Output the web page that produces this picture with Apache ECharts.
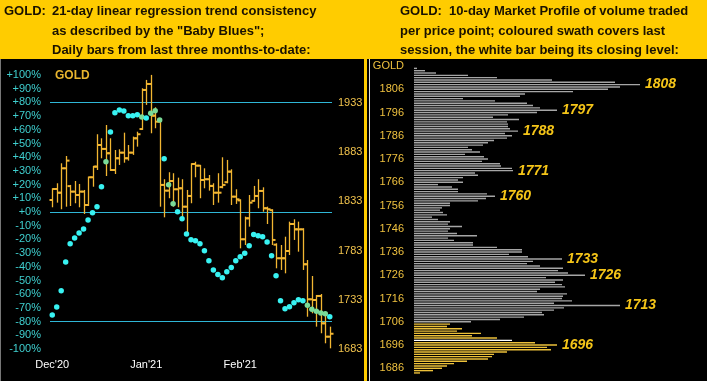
<!DOCTYPE html>
<html><head><meta charset="utf-8">
<script src="https://cdn.jsdelivr.net/npm/echarts@6/dist/echarts.min.js"></script>
<style>html,body{margin:0;padding:0;background:#FFCC00;}#c{width:707px;height:381px;}</style>
</head><body><div id="c"></div>
<script>
// ---------- DATA ----------
const monthLabels = ["Dec'20", "Jan'21", "Feb'21"];
const monthStartIdx = [0, 21, 42];
const opens  = [1834.4,1845.6,1841.8,1866.6,1848.5,1842.9,1839.5,1842.9,1829.3,1857.5,1868.3,1890.3,1886.3,1881.9,1864.9,1876.8,1882.5,1876.8,1882.5,1897.1,1906.5,1946.2,1952.3,1920.1,1914.0,1849.7,1843.9,1853.7,1845.3,1846.3,1827.6,1838.5,1871.0,1869.3,1854.7,1855.5,1848.7,1841.8,1847.5,1852.5,1863.2,1837.8,1834.0,1794.5,1815.8,1833.5,1838.5,1843.6,1826.0,1824.0,1789.0,1775.2,1775.2,1782.6,1810.0,1804.6,1804.6,1769.1,1733.5,1732.8,1736.9,1709.1,1695.5];
const highs  = [1846.3,1851.4,1871.7,1879.1,1849.7,1853.7,1850.7,1844.6,1858.1,1869.0,1901.2,1897.1,1910.6,1897.1,1885.2,1885.9,1902.8,1890.3,1898.8,1903.8,1947.9,1956.4,1961.5,1928.6,1916.4,1855.5,1862.6,1861.6,1857.1,1855.5,1844.6,1871.7,1873.3,1870.0,1866.6,1859.8,1851.4,1861.6,1877.8,1875.1,1865.6,1845.3,1835.1,1817.5,1839.5,1848.7,1855.5,1847.3,1827.6,1825.0,1790.4,1788.7,1797.1,1812.4,1814.8,1812.4,1805.7,1773.4,1757.2,1737.9,1738.9,1719.3,1705.7];
const lows   = [1827.0,1831.7,1825.0,1827.6,1828.3,1831.1,1827.0,1820.2,1828.3,1847.9,1864.9,1876.8,1858.8,1863.9,1860.8,1870.0,1872.3,1874.4,1880.2,1888.6,1905.6,1931.0,1902.2,1907.3,1827.6,1816.8,1836.2,1827.6,1827.0,1817.5,1800.6,1831.1,1857.5,1836.2,1846.3,1843.9,1829.3,1831.7,1846.3,1851.4,1829.3,1830.4,1785.3,1788.7,1807.3,1832.7,1826.0,1822.5,1810.0,1788.7,1765.0,1763.3,1759.9,1778.5,1793.8,1781.9,1763.3,1715.8,1719.3,1705.7,1699.0,1688.8,1683.7];
const closes = [1845.6,1841.8,1866.6,1874.4,1842.9,1839.5,1842.9,1829.3,1857.5,1868.3,1890.3,1886.3,1881.9,1864.9,1876.8,1882.5,1876.8,1882.5,1897.1,1901.2,1946.2,1952.3,1920.1,1914.0,1849.7,1843.9,1853.7,1845.3,1846.3,1827.6,1838.5,1871.0,1869.3,1854.7,1855.5,1848.7,1841.8,1841.8,1849.7,1863.2,1837.8,1835.1,1794.5,1815.8,1831.7,1838.5,1843.6,1826.0,1825.0,1793.8,1775.2,1775.2,1782.6,1810.0,1804.6,1804.6,1769.1,1733.5,1732.8,1736.9,1709.1,1695.5,1698.5];
const babyBlues = [-75.2,-69.3,-57.4,-36.5,-23.1,-19.0,-15.3,-12.4,-5.8,-0.5,3.9,18.5,36.7,58.4,72.5,74.5,73.7,70.3,70.3,71.0,69.3,68.6,72.0,73.9,67.2,38.9,19.9,6.1,0.2,-4.9,-16.1,-20.2,-20.9,-23.1,-28.2,-35.5,-42.3,-45.7,-48.0,-43.6,-40.6,-35.5,-32.6,-30.2,-24.6,-16.5,-17.3,-18.0,-21.9,-31.9,-46.5,-64.7,-70.6,-69.1,-66.2,-64.0,-64.7,-68.1,-71.0,-72.5,-73.7,-74.2,-76.4];
const pctLines = [80, 0, -80];
const priceTicks = [1683, 1733, 1783, 1833, 1883, 1933];
const priceMin = 1683, priceMax = 1961.4;

// Market profile: volume per $1 price level, from profileStart upward
const profileStart = 1684;
const profileVolumes = [6,19,28,33,40,53,74,78,80,93,137,133,143,121,98,83,58,67,43,48,33,36,
 57,86,110,130,128,140,150,206,140,158,148,149,153,123,126,151,148,141,149,132,171,154,144,149,126,113,119,148,114,95,108,108,83,59,59,40,34,63,43,34,36,48,34,36,24,18,33,29,26,28,36,36,64,72,81,73,44,44,38,24,49,44,49,64,61,99,98,87,86,68,74,70,51,66,58,54,69,74,80,93,98,91,104,96,94,94,93,105,79,94,123,143,126,119,113,81,49,106,111,159,194,206,226,201,138,83,54,22,11,3];
const profilePeaks = [1808, 1797, 1788, 1771, 1760, 1733, 1726, 1713, 1696];
const profileTickStep = 10, profileTickBase = 1686;

// ---------- CHART ----------
const FONT = '"Liberation Sans", Arial, sans-serif';
const n = closes.length;
const dayCats = closes.map((_, i) => String(i));
const profileCats = profileVolumes.map((_, i) => String(profileStart + i));
const lastLow = lows[n - 1], lastHigh = highs[n - 1];
const closeLevel = Math.floor(closes[n - 1]);
const barColor = '#F2B632';

const chart = echarts.init(document.getElementById('c'), null, {renderer: 'canvas'});

function hdr(x, y, t) {
  return {type: 'text', x: x, y: y, z: 10, style: {text: t, fill: '#1a1200', font: 'bold 13px ' + FONT, verticalAlign: 'middle', align: 'left'}};
}

const option = {
  backgroundColor: '#FFCC00',
  animation: false,
  graphic: [
    {type: 'rect', z: -10, shape: {x: 0, y: 59, width: 364, height: 322}, style: {fill: '#000'}},
    {type: 'rect', z: -10, shape: {x: 367, y: 59, width: 340, height: 322}, style: {fill: '#000'}},
    {type: 'line', z: -5, shape: {x1: 0.5, y1: 59, x2: 0.5, y2: 381}, style: {stroke: '#777', lineWidth: 1}},
    {type: 'line', z: -5, shape: {x1: 369.5, y1: 59, x2: 369.5, y2: 381}, style: {stroke: '#DDDDDD', lineWidth: 1}},
    hdr(4, 11, 'GOLD:'),
    hdr(52, 11, '21-day linear regression trend consistency'),
    hdr(52, 31, 'as described by the "Baby Blues";'),
    hdr(52, 50.5, 'Daily bars from last three months-to-date:'),
    hdr(400, 11, 'GOLD:  10-day Market Profile of volume traded'),
    hdr(400, 31, 'per price point; coloured swath covers last'),
    hdr(400, 50.5, 'session, the white bar being its closing level:'),
    {type: 'text', x: 55, y: 76, z: 10, style: {text: 'GOLD', fill: '#E9B52E', font: 'bold 12px ' + FONT, verticalAlign: 'middle'}},
    {type: 'text', x: 404, y: 66, z: 10, style: {text: 'GOLD', fill: '#EFC13F', font: '11px ' + FONT, verticalAlign: 'middle', align: 'right'}}
  ],
  grid: [
    {left: 50, top: 75, width: 282, height: 274},
    {left: 414, top: 67.2, width: 286, height: 306.9}
  ],
  xAxis: [
    {type: 'category', gridIndex: 0, data: dayCats, boundaryGap: true,
     axisLine: {show: false}, axisTick: {show: false}, splitLine: {show: false},
     axisLabel: {interval: (idx) => monthStartIdx.indexOf(idx) >= 0,
                 formatter: (v, idx) => { const k = monthStartIdx.indexOf(Number(v)); return k >= 0 ? monthLabels[k] : ''; },
                 color: '#FFFFFF', fontSize: 11, fontFamily: FONT, margin: 10}},
    {type: 'value', gridIndex: 1, min: 0, max: 286, show: false}
  ],
  yAxis: [
    {type: 'value', gridIndex: 0, min: -100, max: 100, interval: 10, position: 'left',
     axisLine: {show: false}, axisTick: {show: false}, splitLine: {show: false},
     axisLabel: {formatter: v => (v >= 0 ? '+' + v : String(v)) + '%', color: '#3FCFCF', fontSize: 11, fontFamily: FONT, margin: 9}},
    {type: 'value', gridIndex: 0, min: priceMin, max: priceMax, position: 'right',
     axisLine: {show: false}, axisTick: {show: false}, splitLine: {show: false},
     axisLabel: {customValues: priceTicks, formatter: v => String(Math.round(v)), color: '#F0C24C', fontSize: 11, fontFamily: FONT, margin: 6}},
    {type: 'category', gridIndex: 1, data: profileCats, boundaryGap: true,
     axisLine: {show: false}, axisTick: {show: false}, splitLine: {show: false},
     axisLabel: {interval: (idx, v) => (Number(v) - profileTickBase) % profileTickStep === 0,
                 color: '#EFC13F', fontSize: 11, fontFamily: FONT, margin: 10}}
  ],
  series: [
    {type: 'custom', xAxisIndex: 0, yAxisIndex: 1, z: 3,
     data: closes.map((c, i) => [i, opens[i], c, lows[i], highs[i]]),
     encode: {x: 0, y: [1, 2, 3, 4]},
     renderItem: function (params, api) {
       const i = api.value(0);
       const pO = api.coord([i, api.value(1)]);
       const pC = api.coord([i, api.value(2)]);
       const pL = api.coord([i, api.value(3)]);
       const pH = api.coord([i, api.value(4)]);
       const x = Math.round(pO[0]) + 0.5, t = 3;
       return {type: 'group', children: [
         {type: 'line', shape: {x1: x, y1: pH[1], x2: x, y2: pL[1]}, style: {stroke: barColor, lineWidth: 1.3}},
         {type: 'line', shape: {x1: x - t, y1: pO[1], x2: x, y2: pO[1]}, style: {stroke: barColor, lineWidth: 2}},
         {type: 'line', shape: {x1: x, y1: pC[1], x2: x + t, y2: pC[1]}, style: {stroke: barColor, lineWidth: 2}}
       ]};
     }},
    {type: 'scatter', xAxisIndex: 0, yAxisIndex: 0, z: 4, symbol: 'circle', symbolSize: 5.5,
     data: babyBlues.map((v, i) => [i, v]),
     itemStyle: {opacity: 1, color: function (p) {
       const i = p.dataIndex;
       const price = priceMin + (babyBlues[i] + 100) / 200 * (priceMax - priceMin);
       return (price >= lows[i] && price <= highs[i]) ? '#7ADB98' : '#38F2F2';
     }},
     markLine: {silent: true, symbol: 'none', z: 1, label: {show: false},
       lineStyle: {color: '#2FB6D6', width: 1, type: 'solid'},
       data: pctLines.map(v => ({yAxis: v}))}},
    {type: 'bar', xAxisIndex: 1, yAxisIndex: 2, barWidth: 1.4, z: 3,
     data: profileVolumes.map((v, i) => {
       const price = profileStart + i;
       let col = '#A6A6A6';
       if (price === closeLevel) col = '#FFFFFF';
       else if (price >= lastLow && price <= lastHigh) col = '#EDC13A';
       const item = {value: v, itemStyle: {color: col}};
       if (profilePeaks.indexOf(price) >= 0) {
         item.label = {show: true, position: 'right', distance: 5, formatter: String(price),
           color: '#F5C518', fontSize: 14, fontWeight: 'bold', fontStyle: 'italic', fontFamily: FONT};
       }
       return item;
     })}
  ]
};
chart.setOption(option);
</script>
</body></html>
